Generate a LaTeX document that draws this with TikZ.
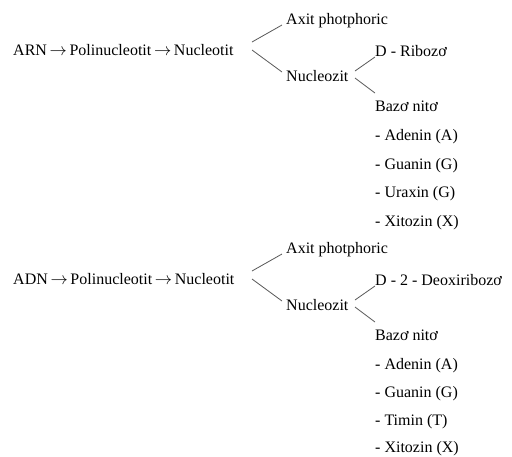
\documentclass[tikz,border=0pt]{standalone}
\usepackage{fontspec}
\setmainfont{Liberation Serif}
\newcommand{\tto}{\,$\rightarrow$\,}
\begin{document}
\begin{tikzpicture}[x=1pt,y=-1pt,
  lbl/.style={anchor=base west,inner sep=0pt,font=\fontsize{16}{18}\selectfont},
  conn/.style={draw=black!65,line width=0.8pt}]
\useasboundingbox[fill=white] (0,0) rectangle (512,456);
% ---------- ARN ----------
\node[lbl] (arn) at (13,55) {ARN\tto Polinucleotit\tto Nucleotit};
\node[lbl] (axit1) at (286,24) {Axit photphoric};
\node[lbl] (nuz1) at (286,81) {Nucleozit};
\node[lbl] (rib1) at (375,56) {D - Ribozơ};
\node[lbl] (baz1) at (375,111) {Bazơ nitơ};
\node[lbl] (a1) at (375,140) {- Adenin (A)};
\node[lbl] (g1) at (375,169) {- Guanin (G)};
\node[lbl] (u1) at (375,197) {- Uraxin (G)};
\node[lbl] (x1) at (375,226) {- Xitozin (X)};
\coordinate (n1a) at (252,42);
\coordinate (n1b) at (252,50);
\coordinate (t1a) at (282,25);
\coordinate (t1b) at (282,72);
\coordinate (z1a) at (355,71);
\coordinate (z1b) at (355,78);
\coordinate (r1) at (375,57);
\coordinate (b1) at (375,93);
\draw[conn] (n1a) -- (t1a);
\draw[conn] (n1b) -- (t1b);
\draw[conn] (z1a) -- (r1);
\draw[conn] (z1b) -- (b1);
% ---------- ADN ----------
\begin{scope}[yshift=-229pt]
\node[lbl] (adn) at (13,55) {ADN\tto Polinucleotit\tto Nucleotit};
\node[lbl] (axit2) at (286,24) {Axit photphoric};
\node[lbl] (nuz2) at (286,81) {Nucleozit};
\node[lbl] (rib2) at (375,56) {D - 2 - Deoxiribozơ};
\node[lbl] (baz2) at (375,111) {Bazơ nitơ};
\node[lbl] (a2) at (375,140) {- Adenin (A)};
\node[lbl] (g2) at (375,168) {- Guanin (G)};
\node[lbl] (t2) at (375,196) {- Timin (T)};
\node[lbl] (x2) at (375,223) {- Xitozin (X)};
\coordinate (n2a) at (252,42);
\coordinate (n2b) at (252,50);
\coordinate (t2a) at (282,25);
\coordinate (t2b) at (282,72);
\coordinate (z2a) at (355,71);
\coordinate (z2b) at (355,78);
\coordinate (r2) at (375,57);
\coordinate (b2) at (375,93);
\draw[conn] (n2a) -- (t2a);
\draw[conn] (n2b) -- (t2b);
\draw[conn] (z2a) -- (r2);
\draw[conn] (z2b) -- (b2);
\end{scope}
\end{tikzpicture}
\end{document}
